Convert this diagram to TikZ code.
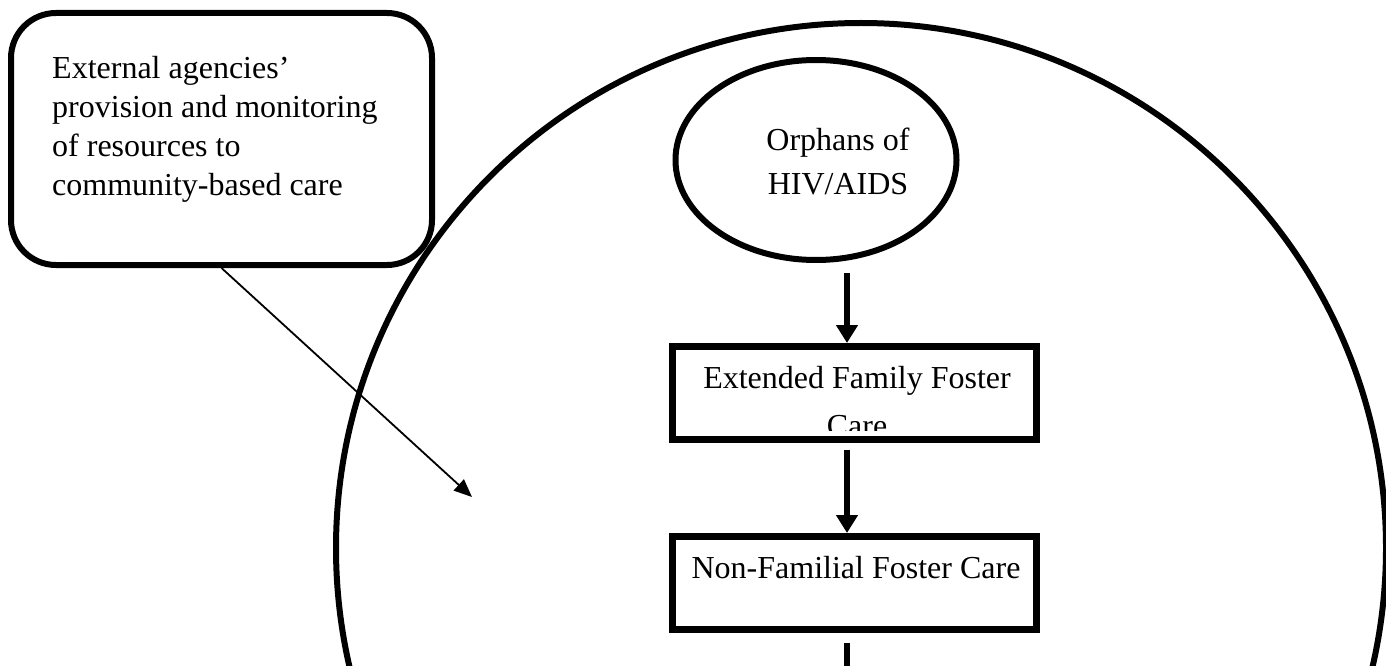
\documentclass[tikz,border=0pt]{standalone}
\usepackage{fontspec}
\setmainfont{Liberation Serif}
\usetikzlibrary{arrows.meta,shapes.geometric}
\begin{document}
\begin{tikzpicture}[x=1pt,y=-1pt,
  bold/.style={draw, line width=6pt},
  txt/.style={font=\fontsize{32}{39}\selectfont, inner sep=0pt},
  boxnode/.style={draw, line width=7pt, minimum width=364pt, minimum height=93pt, inner sep=0pt},
  thickarrow/.style={line width=6pt, -{Triangle[width=21pt,length=18pt]}},
  thinarrow/.style={line width=1.8pt, -{Triangle[width=15pt,length=18pt]}}
]
\useasboundingbox (0,0) rectangle (1386,666);
\node[bold, circle, minimum size=1050pt, inner sep=0pt] (bigc) at (861,548) {};
\node[bold, rounded corners=45pt, minimum width=421pt, minimum height=252pt] (ext) at (221.5,139) {};
\node[txt, anchor=north west, align=left] (extt) at (52,56) {External agencies’\\provision and monitoring\\of resources to\\community-based care};
\node[bold, ellipse, minimum width=281pt, minimum height=200pt, inner sep=0pt] (orph) at (816,160) {};
\node[txt, font=\fontsize{32}{44}\selectfont, align=center] (orpht) at (838,161) {Orphans of\\HIV/AIDS};
\node[boxnode] (fam1) at (854,393) {};
\begin{scope}
\clip (fam1.north west) rectangle ([yshift=13pt]fam1.south east);
\node[txt, font=\fontsize{32}{48}\selectfont, anchor=north, align=center] (fam1t) at (857,366) {Extended Family Foster\\Care};
\end{scope}
\node[boxnode] (fam2) at (854,583) {};
\node[txt, anchor=base] (fam2t) at (856,578) {Non-Familial Foster Care};
\draw[thickarrow, shorten <=10pt] ([xshift=-7pt]orph.south -| fam1.north) -- ([xshift=-7pt]fam1.north);
\draw[thickarrow, shorten <=7pt] ([xshift=-7pt]fam1.south) -- ([xshift=-7pt]fam2.north);
\coordinate (off) at (847,720);
\draw[thickarrow, shorten <=10pt] ([xshift=-7pt]fam2.south) -- (off);
\coordinate (tgt) at (472,497);
\draw[thinarrow] (ext.south) -- (tgt);
\end{tikzpicture}
\end{document}
